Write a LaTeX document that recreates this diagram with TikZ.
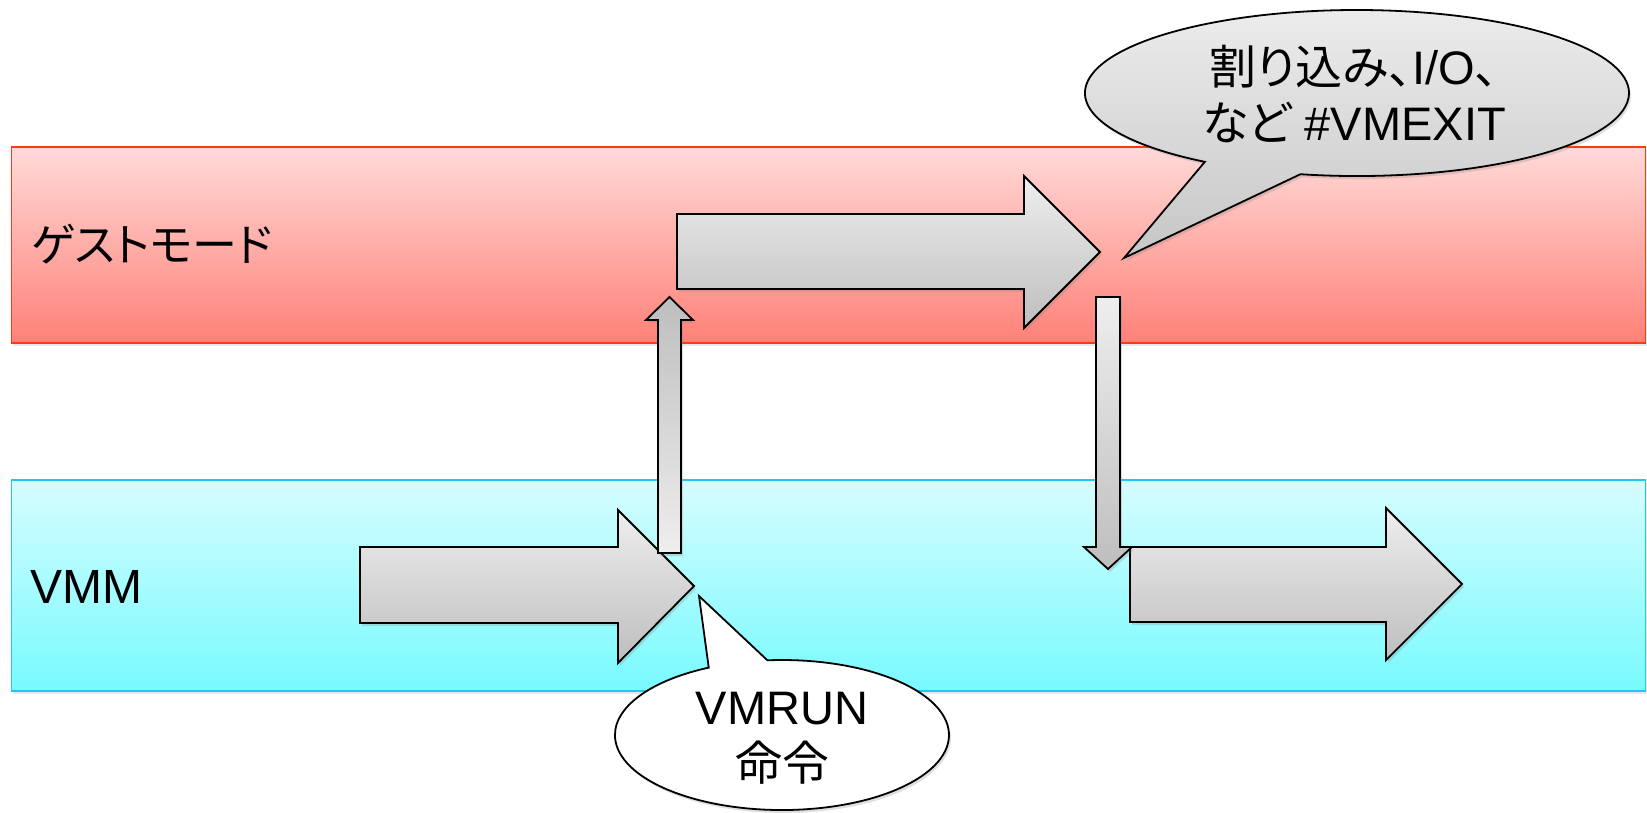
\documentclass[tikz,border=0pt]{standalone}
\usepackage{fontspec}
\setmainfont{Liberation Sans}
\newfontfamily\jp{Noto Sans CJK JP}[RawFeature=+palt]
\usetikzlibrary{shadows}
\definecolor{redtop}{HTML}{FFDAD8}
\definecolor{redbot}{HTML}{FF8178}
\definecolor{redline}{HTML}{FF3A10}
\definecolor{cyantop}{HTML}{D6FDFF}
\definecolor{cyanbot}{HTML}{78FAFF}
\definecolor{cyanline}{HTML}{20C8F0}
\definecolor{greytop}{HTML}{EEEEEE}
\definecolor{greybot}{HTML}{BEBEBE}
\definecolor{bubtop}{HTML}{EDEDED}
\definecolor{bubbot}{HTML}{C6C6C6}
\begin{document}
\begin{tikzpicture}[x=1pt,y=-1pt,
  band/.style={line width=1.6pt, minimum width=1634pt, anchor=north west, inner sep=0pt,
    drop shadow={shadow xshift=2pt, shadow yshift=-3pt, opacity=0.18}},
  redband/.style={band, draw=redline, top color=redtop, bottom color=redbot, minimum height=196pt},
  cyanband/.style={band, draw=cyanline, top color=cyantop, bottom color=cyanbot, minimum height=211pt},
  blockarrow/.style={draw=black, line width=1.8pt, line join=miter, top color=greytop, bottom color=greybot,
    drop shadow={shadow xshift=2pt, shadow yshift=-3pt, opacity=0.25}},
  uparrow/.style={blockarrow, top color=greybot, bottom color=greytop},
  bubble/.style={draw=black, line width=1.8pt, line join=miter,
    drop shadow={shadow xshift=2pt, shadow yshift=-3pt, opacity=0.25}},
  greybubble/.style={bubble, top color=bubtop, bottom color=bubbot},
  whitebubble/.style={bubble, fill=white},
  label/.style={font=\fontsize{48}{58}\selectfont, inner sep=0pt},
  bubtext/.style={font=\fontsize{47}{56}\selectfont, align=center, inner sep=0pt}
]
\useasboundingbox (0,0) rectangle (1647,812);

% bands
\node[redband] (guest) at (10.5,146) {};
\node[cyanband] (vmm) at (10.5,479) {};

% labels
\node[label, anchor=west, font=\fontsize{45}{54}\selectfont] (guestlabel) at (31,244) {\jp ゲストモード};
\node[label, anchor=base west] (vmmlabel) at (30,603) {VMM};

% big arrows
\path[blockarrow] (360,547) -- (618,547) -- (618,510) -- (694,586) -- (618,663) -- (618,623) -- (360,623) -- cycle;
\path[blockarrow] (677,214) -- (1024,214) -- (1024,176) -- (1100,252) -- (1024,328) -- (1024,289) -- (677,289) -- cycle;
\path[blockarrow] (1130,547) -- (1386,547) -- (1386,508) -- (1462,584) -- (1386,660) -- (1386,622) -- (1130,622) -- cycle;

% thin arrows
\path[uparrow] (658,553) -- (658,320) -- (646,320) -- (669.5,297) -- (693,320) -- (681,320) -- (681,553) -- cycle;
\path[blockarrow] (1096,297) -- (1096,547) -- (1084,547) -- (1108,569) -- (1132,547) -- (1120,547) -- (1120,297) -- cycle;

% bubbles
\coordinate (exittip) at (1124,258);
\coordinate (runtip) at (699,596);
\path[greybubble] (1300.4,174.2) arc[start angle=102, end angle=-236, x radius=272, y radius=83] -- (exittip) -- cycle;
\path[whitebubble] (767.4,660.3) arc[start angle=265, end angle=604, x radius=167, y radius=75] -- (runtip) -- cycle;

\node[bubtext] (exittext) at (1354,94) {{\jp 割り込み、}I/O{\jp 、}\\{\jp など} \#VMEXIT};
\node[bubtext] (runtext) at (782,738) {VMRUN\\{\jp 命令}};
\end{tikzpicture}
\end{document}
